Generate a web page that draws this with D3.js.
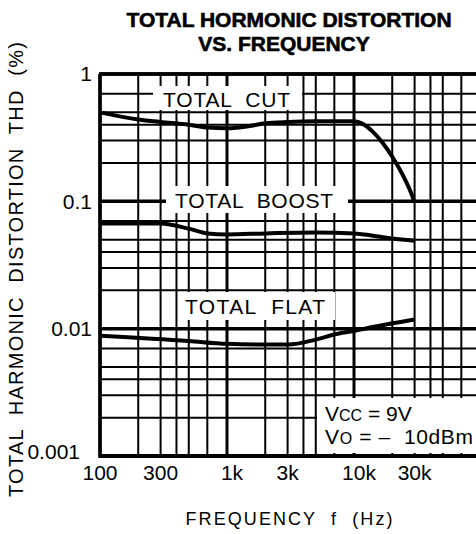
<!DOCTYPE html>
<html>
<head>
<meta charset="utf-8">
<script src="https://cdn.jsdelivr.net/npm/d3@7"></script>
<style>
  body { margin: 0; background: #fff; }
  text { font-family: "Liberation Sans", Arial, sans-serif; fill: #000; }
</style>
</head>
<body>
<div id="vue"></div>
<script>
// données
var cutFreq = [100, 200, 300, 500, 700, 1000, 1500, 2000, 3000, 5000, 10000, 11800, 13900, 16900, 19900, 24300, 27600, 30000];
var cutThd = [0.5, 0.44, 0.42, 0.40, 0.38, 0.375, 0.39, 0.41, 0.42, 0.425, 0.425, 0.404, 0.356, 0.286, 0.226, 0.160, 0.122, 0.098];

var boostFreq = [100, 200, 300, 500, 700, 1000, 2000, 5000, 10000, 12000, 20000, 30000];
var boostThd = [0.067, 0.067, 0.067, 0.061, 0.056, 0.055, 0.056, 0.057, 0.056, 0.055, 0.051, 0.049];

var flatFreq = [100, 500, 1000, 2000, 3000, 5000, 7000, 10000, 13400, 30000];
var flatThd = [0.0088, 0.0080, 0.0076, 0.0075, 0.0075, 0.0082, 0.0090, 0.0096, 0.0102, 0.0118];

var xTickVals = [100, 300, 1000, 3000, 10000, 30000];
var xTickLabels = ["100", "300", "1k", "3k", "10k", "30k"];
var yTickVals = [1, 0.1, 0.01, 0.001];
var yTickLabels = ["1", "0.1", "0.01", "0.001"];

var width = 476, height = 534;

var svg = d3.select("#vue").append("svg")
  .attr("width", width)
  .attr("height", height);

// échelles log, une décade = 127 px environ
var x = d3.scaleLog().domain([100, 100000]).range([100, 481]);
var y = d3.scaleLog().domain([0.001, 1]).range([456, 74]);

function mant(v) {
  return Math.round(v / Math.pow(10, Math.floor(Math.log10(v) + 1e-9)));
}
var keep = [1, 2, 3, 4, 5, 7];

// grille
var g = svg.append("g");
var xs = x.ticks().filter(function (d) { return keep.indexOf(mant(d)) >= 0; });
var ys = y.ticks().filter(function (d) { return keep.indexOf(mant(d)) >= 0; });

g.selectAll("line.v").data(xs).enter().append("line")
  .attr("x1", function (d) { return x(d); })
  .attr("x2", function (d) { return x(d); })
  .attr("y1", 74).attr("y2", 456)
  .attr("stroke", "#000")
  .attr("stroke-width", function (d) { return mant(d) == 1 ? 3 : 2; });

g.selectAll("line.h").data(ys).enter().append("line")
  .attr("x1", 100).attr("x2", 481)
  .attr("y1", function (d) { return y(d); })
  .attr("y2", function (d) { return y(d); })
  .attr("stroke", "#000")
  .attr("stroke-width", function (d) { return mant(d) == 1 ? 3.5 : 2; });

// bords
svg.append("line").attr("x1", 99).attr("x2", 481).attr("y1", 74).attr("y2", 74)
  .attr("stroke", "#000").attr("stroke-width", 3.5);
svg.append("line").attr("x1", 99).attr("x2", 481).attr("y1", 456).attr("y2", 456)
  .attr("stroke", "#000").attr("stroke-width", 4);
svg.append("line").attr("x1", 100).attr("x2", 100).attr("y1", 74).attr("y2", 458)
  .attr("stroke", "#000").attr("stroke-width", 3.5);

// cartouches blancs
function box(x0, y0, w, h) {
  svg.append("rect").attr("x", x0).attr("y", y0).attr("width", w).attr("height", h)
    .attr("fill", "#fff");
}
box(153, 86, 149, 24);
box(166, 186, 182, 27);
box(180, 292, 155, 28);
box(317, 398, 170, 55);

// courbes
var line = d3.line()
  .x(function (d) { return x(d[0]); })
  .y(function (d) { return y(d[1]); })
  .curve(d3.curveMonotoneX);

[[cutFreq, cutThd], [boostFreq, boostThd], [flatFreq, flatThd]].forEach(function (s) {
  svg.append("path")
    .datum(d3.zip(s[0], s[1]))
    .attr("d", line)
    .attr("fill", "none")
    .attr("stroke", "#000")
    .attr("stroke-width", 4)
    .attr("stroke-linejoin", "round");
});

// textes des courbes
function label(t, x0, y0, len) {
  svg.append("text").attr("x", x0).attr("y", y0)
    .attr("font-size", 21)
    .attr("textLength", len).attr("lengthAdjust", "spacing")
    .style("white-space", "pre")
    .text(t);
}
label("TOTAL  CUT", 163, 107, 127);
label("TOTAL  BOOST", 175, 208, 158);
label("TOTAL  FLAT", 185, 314, 140);

var vcc = svg.append("text").attr("x", 325).attr("y", 421).attr("font-size", 21);
vcc.append("tspan").text("V");
vcc.append("tspan").attr("font-size", 16).text("CC");
vcc.append("tspan").text(" = 9V");
var vo = svg.append("text").attr("x", 325).attr("y", 444).attr("font-size", 21)
  .attr("textLength", 148).attr("lengthAdjust", "spacing")
  .style("white-space", "pre");
vo.append("tspan").text("V");
vo.append("tspan").attr("font-size", 16).text("O");
vo.append("tspan").text(" = \u2013  10dBm");

// axes
svg.selectAll("text.xt").data(xTickVals).enter().append("text")
  .attr("class", "xt")
  .attr("x", function (d) { return x(d); })
  .attr("dx", function (d, i) { return xTickLabels[i].charAt(0) == "1" && i > 0 ? 5 : 0; })
  .attr("y", 480)
  .attr("text-anchor", "middle")
  .attr("font-size", 21)
  .text(function (d, i) { return xTickLabels[i]; });

svg.selectAll("text.yt").data(yTickVals).enter().append("text")
  .attr("class", "yt")
  .attr("x", function (d, i) { return i == 3 ? 80 : 92; })
  .attr("y", function (d, i) { return y(d) + (i == 3 ? -4 : 0); })
  .attr("dy", "0.35em")
  .attr("text-anchor", "end")
  .attr("font-size", 21)
  .text(function (d, i) { return yTickLabels[i]; });

svg.append("text")
  .attr("x", 289).attr("y", 525)
  .attr("text-anchor", "middle")
  .attr("font-size", 18)
  .attr("textLength", 207).attr("lengthAdjust", "spacing")
  .style("white-space", "pre")
  .text("FREQUENCY  f  (Hz)");

svg.append("text")
  .attr("transform", "translate(23,497) rotate(-90)")
  .attr("font-size", 20)
  .attr("textLength", 455).attr("lengthAdjust", "spacing")
  .style("white-space", "pre")
  .text("TOTAL  HARMONIC  DISTORTION  THD  (%)");

// titre
svg.append("text")
  .attr("x", 289).attr("y", 27)
  .attr("text-anchor", "middle")
  .attr("font-size", 21).attr("font-weight", "bold")
  .attr("stroke", "#000").attr("stroke-width", 0.6)
  .text("TOTAL HORMONIC DISTORTION");
svg.append("text")
  .attr("x", 284).attr("y", 51)
  .attr("text-anchor", "middle")
  .attr("font-size", 21).attr("font-weight", "bold")
  .attr("stroke", "#000").attr("stroke-width", 0.6)
  .text("VS. FREQUENCY");
</script>
</body>
</html>
